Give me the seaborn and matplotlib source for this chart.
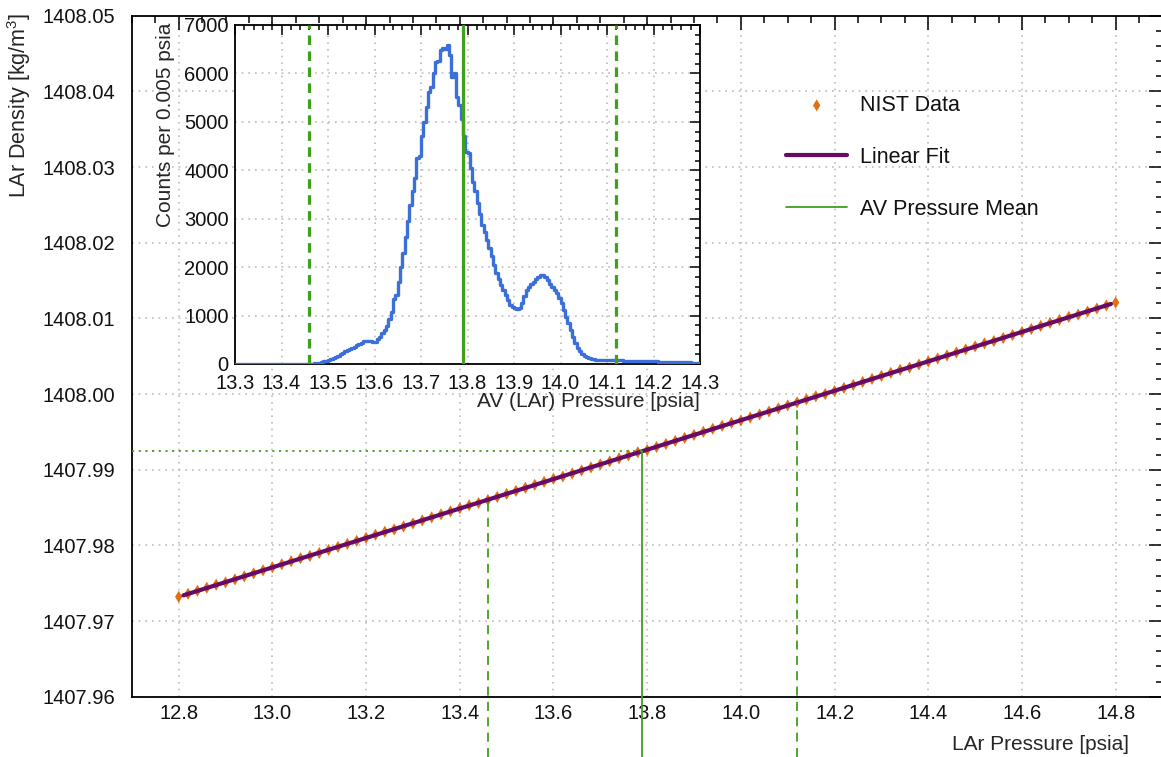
import numpy as np
import pandas as pd
import matplotlib
matplotlib.use("Agg")
import matplotlib.pyplot as plt
from matplotlib.ticker import MultipleLocator, FormatStrFormatter
import seaborn as sns

# ---------------- data ----------------
# NIST liquid-argon density on a 0.02 psia pressure grid
pressure_start, pressure_step, n_points = 12.8, 0.02, 101
nist_density = [
    1407.9732, 1407.9736, 1407.9740, 1407.9744, 1407.9748, 1407.9751, 1407.9755, 1407.9759, 1407.9763, 1407.9767,
    1407.9771, 1407.9775, 1407.9779, 1407.9783, 1407.9786, 1407.9790, 1407.9794, 1407.9798, 1407.9802, 1407.9806,
    1407.9810, 1407.9814, 1407.9818, 1407.9821, 1407.9825, 1407.9829, 1407.9833, 1407.9837, 1407.9841, 1407.9845,
    1407.9849, 1407.9853, 1407.9856, 1407.9860, 1407.9864, 1407.9868, 1407.9872, 1407.9876, 1407.9880, 1407.9884,
    1407.9888, 1407.9891, 1407.9895, 1407.9899, 1407.9903, 1407.9907, 1407.9911, 1407.9915, 1407.9919, 1407.9923,
    1407.9926, 1407.9930, 1407.9934, 1407.9938, 1407.9942, 1407.9946, 1407.9950, 1407.9954, 1407.9958, 1407.9962,
    1407.9965, 1407.9969, 1407.9973, 1407.9977, 1407.9981, 1407.9985, 1407.9989, 1407.9993, 1407.9997, 1408.0000,
    1408.0004, 1408.0008, 1408.0012, 1408.0016, 1408.0020, 1408.0024, 1408.0028, 1408.0032, 1408.0035, 1408.0039,
    1408.0043, 1408.0047, 1408.0051, 1408.0055, 1408.0059, 1408.0063, 1408.0067, 1408.0070, 1408.0074, 1408.0078,
    1408.0082, 1408.0086, 1408.0090, 1408.0094, 1408.0098, 1408.0102, 1408.0105, 1408.0109, 1408.0113, 1408.0117,
    1408.0121,
]

# linear fit: density = intercept + slope * pressure
fit_slope = 0.01945
fit_intercept = 1407.72424
fit_range = [12.81, 14.79]

# AV pressure: mean and the dashed band edges
av_mean = 13.79
av_band = [13.46, 14.12]

# AV pressure histogram, 0.005 psia bins from 13.3 to 14.3
hist_lo, hist_hi, bin_width = 13.3, 14.3, 0.005
hist_counts = [
    2, 2, 2, 2, 2, 2, 2, 2, 2, 2,
    2, 2, 2, 2, 2, 2, 2, 2, 2, 2,
    2, 2, 2, 2, 3, 3, 3, 3, 3, 3,
    3, 4, 5, 8, 12, 20, 30, 42, 55, 68,
    85, 105, 125, 150, 175, 200, 230, 260, 285, 300,
    330, 360, 390, 420, 440, 465, 470, 465, 470, 455,
    460, 510, 560, 640, 700, 780, 920, 1080, 1340, 1430,
    1700, 2000, 2300, 2620, 2950, 3280, 3580, 3850, 4250, 4300,
    4700, 5000, 5300, 5620, 5720, 6000, 6230, 6250, 6480, 6520,
    6500, 6580, 6380, 5930, 6000, 5520, 5350, 5050, 4700, 4380,
    4360, 4050, 3760, 3580, 3320, 3100, 2880, 2720, 2560, 2400,
    2220, 2040, 1880, 1760, 1640, 1530, 1430, 1330, 1220, 1180,
    1150, 1140, 1160, 1260, 1400, 1530, 1600, 1650, 1700, 1760,
    1800, 1830, 1840, 1790, 1740, 1660, 1600, 1530, 1460, 1360,
    1250, 1120, 980, 840, 700, 560, 440, 340, 260, 210,
    170, 140, 120, 105, 95, 90, 88, 86, 85, 84,
    82, 80, 80, 78, 76, 75, 74, 72, 70, 70,
    68, 66, 65, 64, 62, 60, 60, 58, 56, 55,
    54, 52, 50, 50, 48, 46, 45, 44, 42, 40,
    40, 38, 36, 35, 34, 32, 30, 28, 26, 25,
]

# ---------------- style ----------------
sns.set_theme(style="white")
plt.rcParams["font.family"] = ["Liberation Sans", "DejaVu Sans"]
plt.rcParams["mathtext.fontset"] = "custom"
plt.rcParams["mathtext.rm"] = "Liberation Sans"
plt.rcParams["mathtext.it"] = "Liberation Sans:italic"
plt.rcParams["axes.edgecolor"] = "black"
plt.rcParams["axes.linewidth"] = 1.3
plt.rcParams["text.color"] = "#111111"

C_NIST = "#e07010"
C_FIT = "#680a68"
C_GREEN = "#40a01c"
C_HIST = "#3b6fd9"
C_GRID = "#bdbdbd"
FS = 14.5

W, H = 1161, 757
fig = plt.figure(figsize=(W / 100, H / 100), dpi=100)

# main axes
x0, x1, ytop, ybot = 131.85, 1162.5, 15.7, 696.7
ax = fig.add_axes([x0 / W, 1 - ybot / H, (x1 - x0) / W, (ybot - ytop) / H])

nist = pd.DataFrame({
    "pressure": pressure_start + pressure_step * np.arange(n_points),
    "density": nist_density,
})
fit = pd.DataFrame({"pressure": fit_range})
fit["density"] = fit_intercept + fit_slope * fit["pressure"]

sns.scatterplot(data=nist, x="pressure", y="density", marker="d", s=38,
                color=C_NIST, edgecolor="none", linewidth=0, ax=ax,
                label="NIST Data", zorder=3)
sns.lineplot(data=fit, x="pressure", y="density", color=C_FIT, linewidth=3.0,
             ax=ax, label="Linear Fit", zorder=4)

ax.set_xlim(12.7, 14.9)
ax.set_ylim(1407.96, 1408.05)
ax.spines["right"].set_visible(False)

ax.xaxis.set_major_locator(MultipleLocator(0.2))
ax.xaxis.set_minor_locator(MultipleLocator(0.05))
ax.yaxis.set_major_locator(MultipleLocator(0.01))
ax.yaxis.set_minor_locator(MultipleLocator(0.002))
ax.xaxis.set_major_formatter(FormatStrFormatter("%.1f"))
ax.yaxis.set_major_formatter(FormatStrFormatter("%.2f"))
ax.tick_params(which="both", direction="in", top=True, right=True,
               width=1.1, colors="black", labelsize=FS, labelcolor="#111111")
ax.tick_params(which="major", length=10)
ax.tick_params(which="minor", length=5)
ax.tick_params(axis="x", which="major", pad=5)
ax.tick_params(axis="y", which="major", pad=12)
ax.grid(True, which="major", color=C_GRID, linestyle=(0, (1, 3)), linewidth=1.2)

ax.set_xlabel("LAr Pressure [psia]", fontsize=FS + 0.5, loc="right")
ax.xaxis.set_label_coords((1129 - x0) / (x1 - x0), (ybot - 735) / (ybot - ytop))
ax.set_ylabel(r"LAr Density [kg/m$^{3}$]", fontsize=FS + 1, loc="top")
ax.yaxis.set_label_coords((33 - x0) / (x1 - x0), (ybot - 12.7) / (ybot - ytop))

# AV mean / band guide lines reaching the bottom edge of the figure
fig.canvas.draw()
y_floor = ax.transData.inverted().transform(fig.transFigure.transform((0, 0)))[1]
mean_density = fit_intercept + fit_slope * av_mean
ax.plot([av_mean, av_mean], [y_floor, mean_density], color=C_GREEN, lw=1.3,
        clip_on=False, zorder=5, label="AV Pressure Mean")
for p in av_band:
    ax.plot([p, p], [y_floor, fit_intercept + fit_slope * p], color=C_GREEN,
            lw=1.3, linestyle=(0, (5, 3.5)), clip_on=False, zorder=5)
ax.plot([12.7, av_mean], [mean_density, mean_density], color=C_GREEN, lw=1.3,
        linestyle=(0, (1.2, 2.5)), zorder=5)

leg = ax.legend(loc="upper left", bbox_to_anchor=(786 / W, 1 - 95 / H),
                bbox_transform=fig.transFigure, frameon=False, fontsize=FS + 1,
                handlelength=2.85, handletextpad=0.6, labelspacing=1.43,
                borderpad=0, borderaxespad=0, markerscale=1.0)

# inset histogram
ix0, ix1, iy0, iy1 = 235, 700, 25, 364
ax_in = fig.add_axes([ix0 / W, 1 - iy1 / H, (ix1 - ix0) / W, (iy1 - iy0) / H])
ax_in.set_facecolor("white")
hist = pd.DataFrame({
    "pressure": hist_lo + bin_width * (np.arange(len(hist_counts)) + 0.5),
    "counts": hist_counts,
})
sns.histplot(data=hist, x="pressure", weights="counts", binwidth=bin_width,
             binrange=(hist_lo, hist_hi), element="step", fill=False,
             color=C_HIST, linewidth=2.4, ax=ax_in, zorder=3)
ax_in.axvline(av_mean, color=C_GREEN, lw=2.3, zorder=4)
for p in av_band:
    ax_in.axvline(p, color=C_GREEN, lw=2.3, linestyle=(0, (3, 2)), zorder=4)

ax_in.set_xlim(hist_lo, hist_hi)
ax_in.set_ylim(0, 7000)
ax_in.xaxis.set_major_locator(MultipleLocator(0.1))
ax_in.xaxis.set_minor_locator(MultipleLocator(0.02))
ax_in.yaxis.set_major_locator(MultipleLocator(1000))
ax_in.yaxis.set_minor_locator(MultipleLocator(200))
ax_in.xaxis.set_major_formatter(FormatStrFormatter("%.1f"))
ax_in.tick_params(which="both", direction="in", top=True, right=True,
                  width=1.1, colors="black", labelsize=FS, labelcolor="#111111")
ax_in.tick_params(which="major", length=7)
ax_in.tick_params(which="minor", length=3.5)
ax_in.tick_params(axis="x", which="major", pad=7)
ax_in.tick_params(axis="y", which="major", pad=4.5)
ax_in.grid(True, which="major", color=C_GRID, linestyle=(0, (1, 3)), linewidth=1.2)
ax_in.set_axisbelow(True)

ax_in.set_xlabel("AV (LAr) Pressure [psia]", fontsize=FS + 0.5, loc="right")
ax_in.xaxis.set_label_coords(1.0, (iy1 - 392) / (iy1 - iy0))
ax_in.set_ylabel("Counts per 0.005 psia", fontsize=FS + 0.5, loc="top")
ax_in.yaxis.set_label_coords((175 - ix0) / (ix1 - ix0), (iy1 - 23) / (iy1 - iy0))

fig.savefig("out.png", dpi=100, facecolor="white")
